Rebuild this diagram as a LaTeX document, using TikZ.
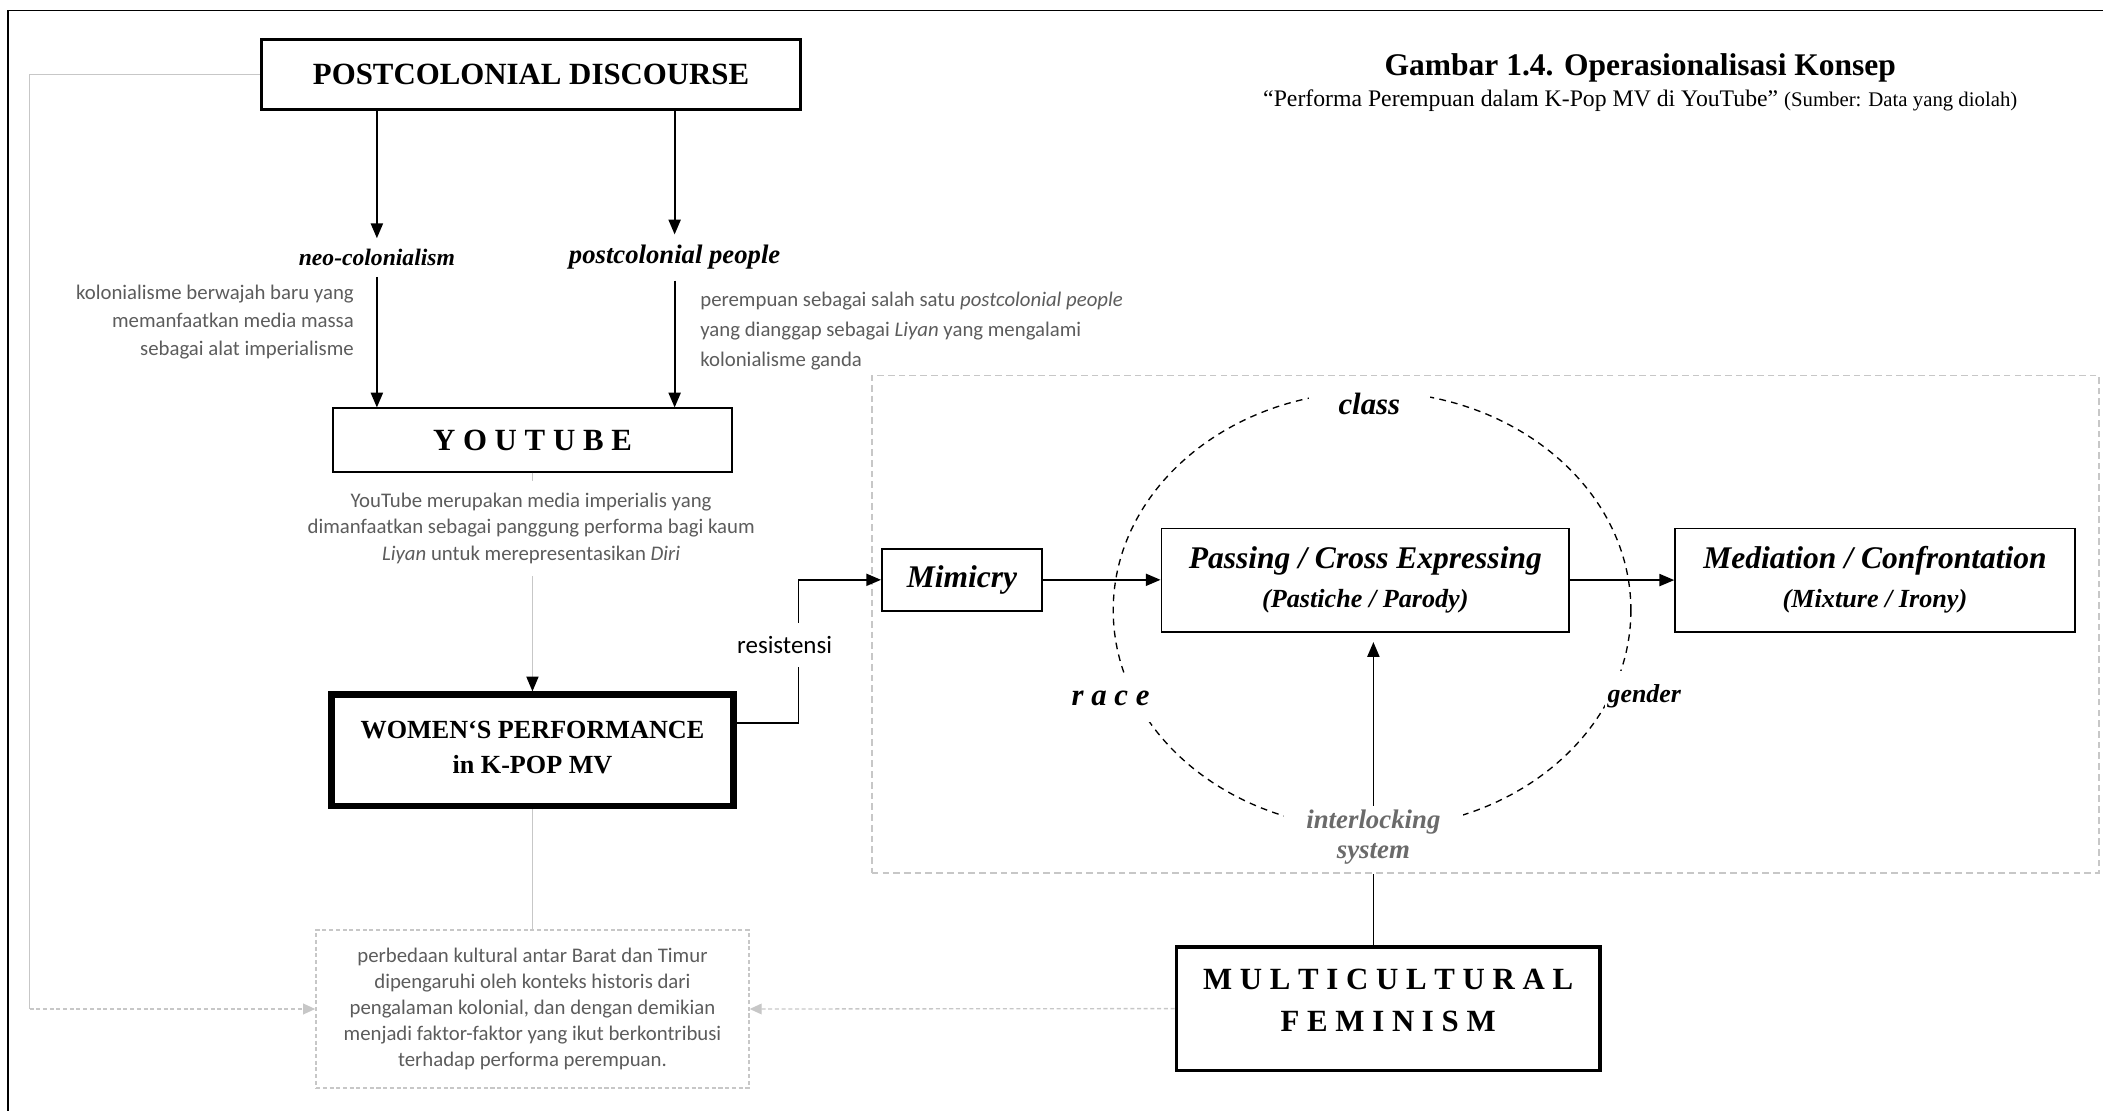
\documentclass[tikz,border=0pt]{standalone}
\usepackage{fontspec}
\setmainfont{Liberation Serif}
\newfontfamily\notefont{Carlito}
\usetikzlibrary{arrows.meta,positioning}
\definecolor{lGray}{gray}{0.78}
\definecolor{tGray}{gray}{0.36}
\definecolor{iGray}{gray}{0.42}
\newcommand{\fsz}[2]{\fontsize{#1}{#2}\selectfont}
\tikzset{
    box/.style={draw, line width=1.4pt, inner sep=0pt, align=center},
    lbl/.style={inner sep=2pt, font=\bfseries\itshape},
    notetxt/.style={inner sep=0pt, text=tGray, font=\notefont\fsz{15.5}{21}},
    dbox/.style={draw=lGray, line width=1.3pt, dash pattern=on 3pt off 2pt},
    arr/.style={line width=1.3pt, -{Triangle[length=11pt,width=9pt]}},
    gline/.style={line width=1pt, lGray}
}
\begin{document}
\begin{tikzpicture}[x=1pt,y=-1pt]
\useasboundingbox (0,0) rectangle (1568,828);
\draw[line width=1.1pt] (6,840) -- (6,8) -- (1580,8);

\node[font=\bfseries\fsz{23.5}{28}] (ttl) at (1223,51) {Gambar 1.4. Operasionalisasi Konsep};
\node[font=\fsz{17.7}{20}] (sub) at (1223,75) {“Performa Perempuan dalam K-Pop MV di YouTube” {\fsz{15.5}{18}(Sumber: Data yang diolah)}};

\node[dbox, line width=1.2pt, dash pattern=on 5pt off 3pt, minimum width=915pt, minimum height=371pt] (area) at (1107.5,465.5) {};
\draw[line width=1pt, dash pattern=on 5pt off 4pt] (1023,455) ellipse [x radius=193, y radius=163];

\node[box, line width=2.5pt, minimum width=402pt, minimum height=52pt, font=\bfseries\fsz{23}{28}] (pd) at (396,55.6) {POSTCOLONIAL DISCOURSE};
\node[lbl, font=\bfseries\itshape\fsz{17.6}{20}] (neo) at (281,192) {neo-colonialism};
\node[lbl, font=\bfseries\itshape\fsz{19.9}{22}] (pcp) at (503,192) {postcolonial people};
\node[box, minimum width=297.6pt, minimum height=47.2pt, font=\bfseries\fsz{23}{28}] (yt) at (397,328.1) {Y O U T U B E};
\node[box, line width=5pt, minimum width=299.6pt, minimum height=83pt, font=\bfseries\fsz{19.5}{26}] (wp) at (397,559.5) {WOMEN‘S PERFORMANCE\\ in K-POP MV\\[-22pt]\mbox{}};

\draw[arr, shorten >=6pt] (pd.south -| neo) -- (neo.north);
\draw[arr, shorten >=6pt] (pd.south -| pcp) -- (pcp.north);
\draw[arr, shorten <=6pt] (neo.south) -- (yt.north -| neo);
\draw[arr, shorten <=6pt] (pcp.south) -- (yt.north -| pcp);

\node[notetxt, align=right, anchor=east] (n1) at (264,240) {kolonialisme berwajah baru yang\\ memanfaatkan media massa\\ sebagai alat imperialisme};
\node[notetxt, align=left, anchor=west, font=\notefont\fsz{15.5}{22.5}] (n2) at (522,247) {perempuan sebagai salah satu \textit{postcolonial people}\\ yang dianggap sebagai \textit{Liyan} yang mengalami\\ kolonialisme ganda};

\draw[gline, -{Triangle[length=11pt,width=9pt,color=black]}] (yt.south) -- (wp.north);
\node[notetxt, fill=white, align=center, inner ysep=9pt, font=\notefont\fsz{15.5}{19.5}] (ytn) at (396,394) {YouTube merupakan media imperialis yang\\ dimanfaatkan sebagai panggung performa bagi kaum\\ \textit{Liyan} untuk merepresentasikan \textit{Diri}};

\node[dbox, notetxt, align=center, font=\notefont\fsz{15.5}{19.3}, minimum width=322.6pt, minimum height=117.5pt] (db) at (397,752.3) {perbedaan kultural antar Barat dan Timur\\ dipengaruhi oleh konteks historis dari\\ pengalaman kolonial, dan dengan demikian\\ menjadi faktor-faktor yang ikut berkontribusi\\ terhadap performa perempuan.};
\draw[gline] (wp.south) -- (db.north);
\coordinate (lc) at (22,752.3);
\draw[gline] (pd.west) -| (lc);
\draw[gline, dash pattern=on 3pt off 2pt, -{Triangle[length=9pt,width=8pt]}] (lc) -- (db.west);

\node[box, line width=2.5pt, minimum width=316pt, minimum height=92pt, font=\bfseries\fsz{23}{31.6}] (mf) at (1035,752) {M U L T I C U L T U R A L\\ F E M I N I S M\\[-19.6pt]\mbox{}};
\draw[gline, dash pattern=on 3pt off 2pt, -{Triangle[length=9pt,width=8pt]}] (mf.west) -- (db.east);

\node[box, minimum width=119.4pt, minimum height=46.6pt, font=\bfseries\itshape\fsz{23.5}{28}] (mim) at (717.3,432.3) {Mimicry};
\node[box, minimum width=304pt, minimum height=77pt, font=\bfseries\itshape\fsz{23.5}{29}] (pas) at (1018,432.5) {Passing / Cross Expressing\\ {\fsz{19.5}{29}(Pastiche / Parody)}};
\node[box, minimum width=298pt, minimum height=77pt, font=\bfseries\itshape\fsz{23.5}{29}] (med) at (1398,432.5) {Mediation / Confrontation\\ {\fsz{19.5}{29}(Mixture / Irony)}};
\draw[arr] (mim.east) -- (mim.east -| pas.west);
\draw[arr] (pas.east) -- (pas.east -| med.west);

\draw[arr] ([yshift=20.5pt]wp.east) -- ++(46,0) |- (mim.west);
\node[fill=white, inner xsep=2pt, inner ysep=10pt, font=\notefont\fsz{18.6}{22}] (res) at (585,481) {resistensi};

\node[lbl, fill=white, inner xsep=22pt, font=\bfseries\itshape\fsz{23}{28}] (cls) at (1021,301) {class};
\node[lbl, fill=white, inner ysep=12pt, font=\bfseries\itshape\fsz{23}{28}] (rce) at (828,521) {r a c e};
\node[lbl, fill=white, inner ysep=10pt, font=\bfseries\itshape\fsz{19.3}{22}] (gdr) at (1226,519) {gender};
\node[lbl, fill=white, text=iGray, inner xsep=17pt, inner ysep=3pt, align=center, font=\bfseries\itshape\fsz{20}{22}] (isys) at (1024,624) {interlocking\\ system};
\draw[arr, shorten >=7pt] (isys.north) -- (isys.north |- pas.south);
\draw[line width=1.3pt] (mf.north -| isys) -- (area.south -| isys);
\end{tikzpicture}
\end{document}
